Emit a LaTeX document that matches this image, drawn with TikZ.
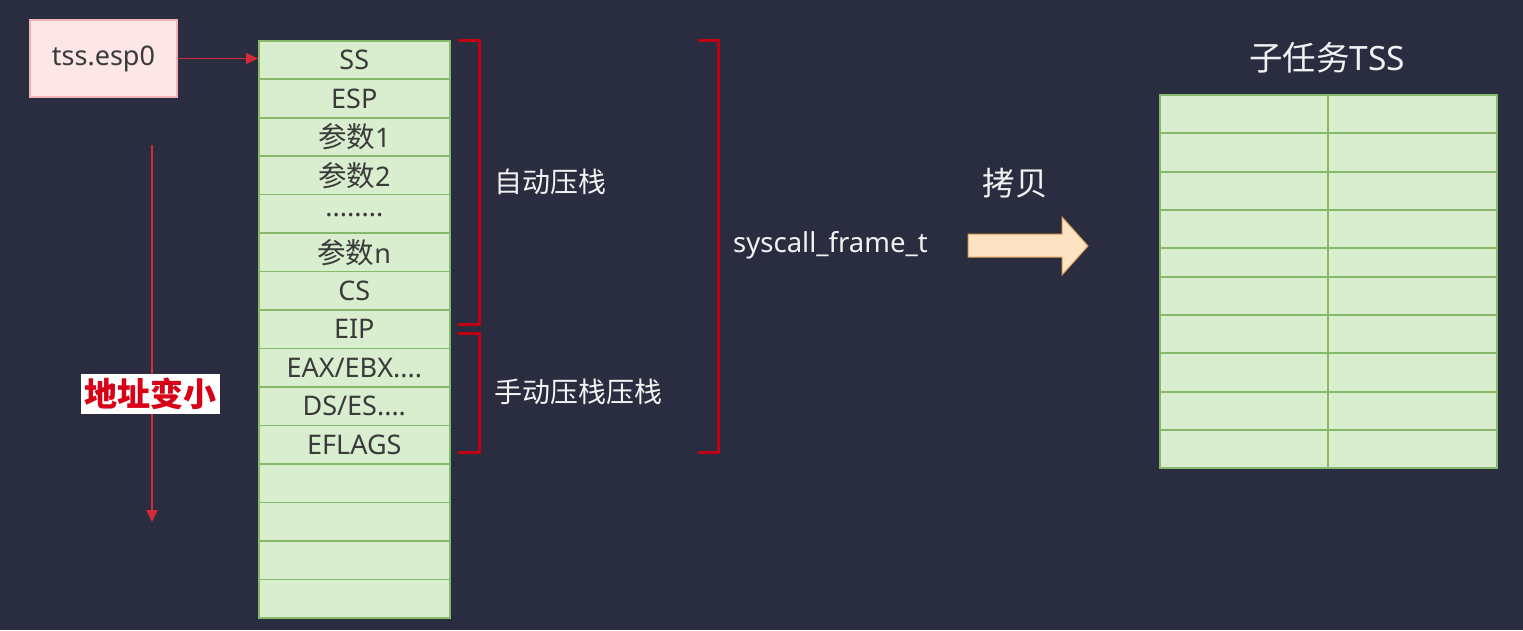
\documentclass[tikz,border=0pt]{standalone}
\usepackage{fontspec}
\setmainfont{Noto Sans}
\newfontfamily\cjk{Noto Sans CJK SC}
\usetikzlibrary{arrows.meta}
\definecolor{bg}{HTML}{292D3F}
\definecolor{cellfill}{HTML}{D9EDCF}
\definecolor{cellline}{HTML}{86B96A}
\definecolor{celltext}{HTML}{3A3A3A}
\definecolor{brk}{HTML}{C00014}
\definecolor{arr}{HTML}{D42A3A}
\definecolor{espfill}{HTML}{FDE6E6}
\definecolor{espline}{HTML}{F0B4B4}
\definecolor{fatfill}{HTML}{FDE3C4}
\definecolor{fatline}{HTML}{D9A05B}
\definecolor{wtext}{HTML}{F2F2F2}
\definecolor{lbl}{HTML}{D80016}
\tikzset{
  cell/.style={draw=cellline, fill=cellfill, line width=1.6pt, minimum width=191pt,
    minimum height=38.47pt, inner sep=0pt, anchor=north west, text=celltext,
    font=\fontsize{27}{30}\selectfont},
  redarrow/.style={draw=arr, line width=1.8pt, -{Triangle[length=12pt,width=11pt]}},
  bracket/.style={draw=brk, line width=3pt},
  wlabel/.style={text=wtext, inner sep=0pt, font=\fontsize{27.5}{30}\selectfont}
}
\begin{document}
\begin{tikzpicture}[x=1pt,y=-1pt]
\fill[bg] (0,0) rectangle (1523,630);
\useasboundingbox (0,0) rectangle (1523,630);
% stack cells
\foreach \i/\t in {1/SS,2/ESP,3/{{\cjk\fontsize{28.5}{30}\selectfont 参数}1},4/{{\cjk\fontsize{28.5}{30}\selectfont 参数}2},5/{\raisebox{-6pt}{........}},6/{{\cjk\fontsize{28.5}{30}\selectfont 参数}n},7/CS,8/EIP,9/{EAX/EBX....},10/{DS/ES....},11/EFLAGS,12/{},13/{},14/{},15/{}}{
  \node[cell] (c\i) at (258,{40+(\i-1)*38.47}) {\t};
}
% tss.esp0
\node[draw=espline, fill=espfill, line width=1.6pt, minimum width=147pt, minimum height=77pt,
  inner sep=0pt, text=celltext, font=\fontsize{27}{30}\selectfont] (esp) at (103.5,58.5) {tss.esp0};
\draw[redarrow] (esp.east) -- (esp.east -| c1.west);
% address decreasing arrow
\coordinate (va) at (152,145);
\coordinate (vb) at (152,522);
\draw[redarrow] (va) -- (vb);
\node[fill=white, minimum width=139pt, minimum height=40pt, inner sep=0pt, text=lbl,
  font=\fontsize{33}{36}\selectfont\cjk\bfseries] (addr) at (150.5,394) {地址变小};
% brackets
\draw[bracket] (458,40) -- (479,40) -- (479,324) -- (458,324);
\draw[bracket] (458,333) -- (479,333) -- (479,452) -- (458,452);
\draw[bracket] (698,40) -- (718,40) -- (718,452) -- (698,452);
% labels
\node[wlabel, anchor=west, font=\fontsize{28}{30}\selectfont\cjk] (auto) at (494,182) {自动压栈};
\node[wlabel, anchor=west, font=\fontsize{28}{30}\selectfont\cjk] (manual) at (494,392) {手动压栈压栈};
\node[wlabel, anchor=west] (frame) at (733,245) {syscall\_frame\_t};
\node[wlabel, font=\fontsize{32.5}{34}\selectfont\cjk] (copy) at (1015,183) {拷贝};
% fat arrow
\draw[fill=fatfill, draw=fatline, line width=1pt] (968,234) -- (1062,234) -- (1062,217) -- (1088,246) -- (1062,275) -- (1062,257) -- (968,257) -- cycle;
% TSS table
\node[wlabel, font=\fontsize{33.5}{34}\selectfont] (title) at (1327,58) {{\cjk 子任务}TSS};
\fill[cellfill] (1160,95) rectangle (1497,468);
\foreach \y in {133,172,210,248,277,315,353,392,430}{
  \draw[cellline, line width=1.6pt] (1160,\y) -- (1497,\y);
}
\draw[cellline, line width=1.6pt] (1328,95) -- (1328,468);
\draw[cellline, line width=1.6pt] (1160,95) rectangle (1497,468);
\end{tikzpicture}
\end{document}
